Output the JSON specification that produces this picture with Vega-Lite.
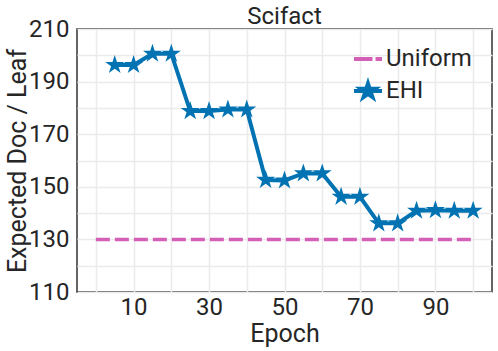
{
  "$schema": "https://vega.github.io/schema/vega-lite/v6.json",
  "width": 415,
  "height": 263,
  "autosize": "none",
  "padding": {"left": 77, "top": 29, "right": 6, "bottom": 59},
  "background": "white",
  "title": {"text": "Scifact", "fontSize": 24, "fontWeight": "normal", "offset": -12, "color": "#262626", "font": "Roboto"},
  "data": {"values": [
    {"epoch": 0, "value": 130, "series": "Uniform"},
    {"epoch": 100, "value": 130, "series": "Uniform"},
    {"epoch": 5, "value": 196.3, "series": "EHI"},
    {"epoch": 10, "value": 196.3, "series": "EHI"},
    {"epoch": 15, "value": 200.6, "series": "EHI"},
    {"epoch": 20, "value": 200.6, "series": "EHI"},
    {"epoch": 25, "value": 178.8, "series": "EHI"},
    {"epoch": 30, "value": 178.8, "series": "EHI"},
    {"epoch": 35, "value": 179.4, "series": "EHI"},
    {"epoch": 40, "value": 179.4, "series": "EHI"},
    {"epoch": 45, "value": 152.6, "series": "EHI"},
    {"epoch": 50, "value": 152.4, "series": "EHI"},
    {"epoch": 55, "value": 155.1, "series": "EHI"},
    {"epoch": 60, "value": 155.1, "series": "EHI"},
    {"epoch": 65, "value": 146.2, "series": "EHI"},
    {"epoch": 70, "value": 146.2, "series": "EHI"},
    {"epoch": 75, "value": 136.1, "series": "EHI"},
    {"epoch": 80, "value": 136.1, "series": "EHI"},
    {"epoch": 85, "value": 140.9, "series": "EHI"},
    {"epoch": 90, "value": 141.1, "series": "EHI"},
    {"epoch": 95, "value": 140.9, "series": "EHI"},
    {"epoch": 100, "value": 140.9, "series": "EHI"}
  ]},
  "encoding": {
    "x": {"field": "epoch", "type": "quantitative", "title": "Epoch",
      "scale": {"domain": [-5, 105], "nice": false, "zero": false},
      "axis": {"values": [0, 10, 20, 30, 40, 50, 60, 70, 80, 90, 100], "labelExpr": "datum.value % 20 == 10 ? datum.label : ''", "labelPadding": 3, "titlePadding": 2}},
    "y": {"field": "value", "type": "quantitative", "title": "Expected Doc / Leaf",
      "scale": {"domain": [110, 210], "nice": false, "zero": false},
      "axis": {"values": [110, 120, 130, 140, 150, 160, 170, 180, 190, 200, 210], "labelExpr": "datum.value % 20 == 10 ? datum.label : ''", "labelPadding": 8, "titlePadding": -2}},
    "color": {"field": "series", "type": "nominal",
      "scale": {"domain": ["Uniform", "EHI"], "range": ["#d35fb7", "#0173b2"]},
      "legend": {"orient": "none", "legendX": 279, "legendY": 18, "title": null, "labelFontSize": 24, "labelColor": "#262626", "symbolSize": 400, "labelOffset": 6, "rowPadding": 4, "padding": 0,
        "encode": {"symbols": {"update": {
          "shape": {"signal": "datum.value === 'EHI' ? 'M-1.4,0H1.4M0,-0.75L0.168,-0.232L0.713,-0.232L0.272,0.089L0.441,0.607L0,0.287L-0.441,0.607L-0.272,0.089L-0.713,-0.232L-0.168,-0.232Z' : 'M-1.4,0H0.45M0.75,0H1.4'"},
          "fill": {"signal": "datum.value === 'EHI' ? '#0173b2' : 'transparent'"},
          "stroke": {"signal": "datum.value === 'EHI' ? '#0173b2' : '#d35fb7'"},
          "strokeWidth": {"value": 4},
          "opacity": {"value": 1}
        }}}}}
  },
  "layer": [
    {"transform": [{"filter": "datum.series === 'Uniform'"}],
     "mark": {"type": "line", "strokeWidth": 3.5, "strokeDash": [14, 5]}},
    {"transform": [{"filter": "datum.series === 'EHI'"}],
     "mark": {"type": "line", "strokeWidth": 4,
       "point": {"filled": true, "size": 400, "opacity": 1, "shape": "M0,-1L0.2245,-0.309L0.951,-0.309L0.363,0.118L0.588,0.809L0,0.382L-0.588,0.809L-0.363,0.118L-0.951,-0.309L-0.2245,-0.309Z"}}}
  ],
  "config": {
    "font": "Roboto",
    "view": {"stroke": "#333333", "strokeWidth": 1.5},
    "axis": {"domain": false, "ticks": false, "grid": true, "gridColor": "#ebebeb", "gridWidth": 1.5,
      "labelFontSize": 24, "titleFontSize": 25, "labelColor": "#262626", "titleColor": "#262626", "titleFontWeight": "normal"},
    "axisY": {"labelAlign": "right"}
  }
}
